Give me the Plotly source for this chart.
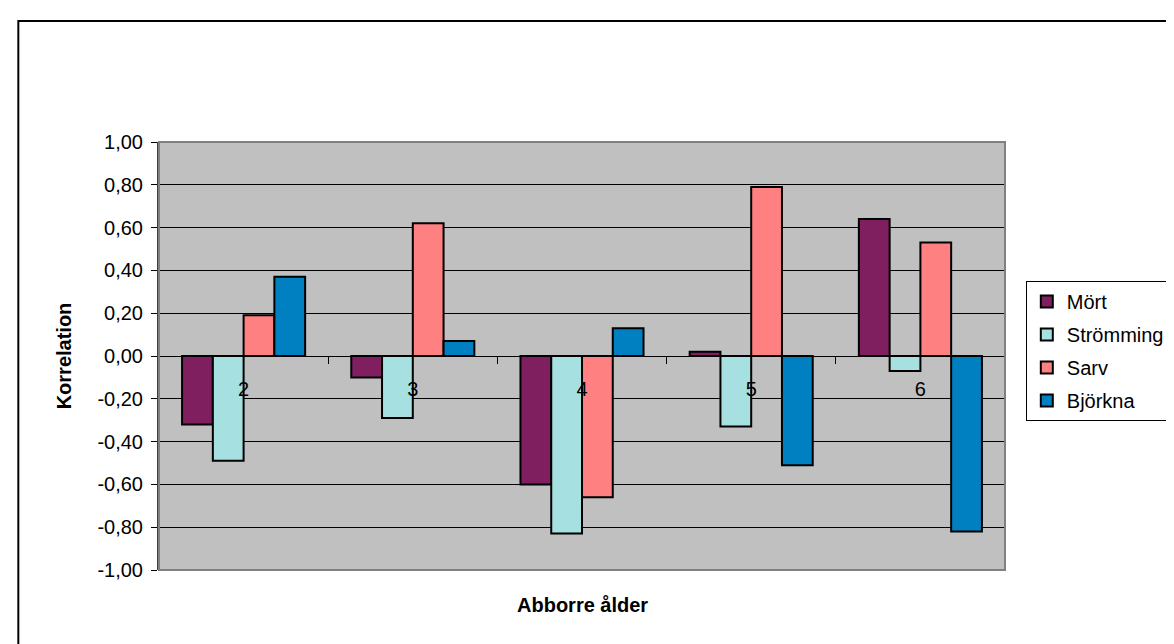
import plotly.graph_objects as go

categories = ["2", "3", "4", "5", "6"]
series_names = ["Mört", "Strömming", "Sarv", "Björkna"]
mort = [-0.32, -0.10, -0.60, 0.02, 0.64]
stromming = [-0.49, -0.29, -0.83, -0.33, -0.07]
sarv = [0.19, 0.62, -0.66, 0.79, 0.53]
bjorkna = [0.37, 0.07, 0.13, -0.51, -0.82]
colors = ["#7F1F5F", "#A6E0E0", "#FF8080", "#0080C0"]
y_tick_vals = [1.0, 0.8, 0.6, 0.4, 0.2, 0.0, -0.2, -0.4, -0.6, -0.8, -1.0]
y_tick_text = ["1,00", "0,80", "0,60", "0,40", "0,20", "0,00",
               "-0,20", "-0,40", "-0,60", "-0,80", "-1,00"]
x_title = "Abborre ålder"
y_title = "Korrelation"

FONT = "Arial, 'Liberation Sans', sans-serif"

fig = go.Figure()
for name, vals, col in zip(series_names, [mort, stromming, sarv, bjorkna], colors):
    fig.add_trace(go.Bar(
        x=categories, y=vals, name=name, legendgroup=name,
        marker=dict(color=col, line=dict(color="black", width=2)),
    ))

W, H = 1174, 644
L, R, T, B = 151, 169, 134, 82
pw, ph = W - L - R, H - T - B

fig.update_layout(
    width=W, height=H,
    margin=dict(l=L, r=R, t=T, b=B, pad=0),
    paper_bgcolor="white",
    plot_bgcolor="#C0C0C0",
    barmode="group",
    bargap=1.5 / 5.5,
    bargroupgap=0,
    font=dict(family=FONT, size=20, color="black"),
    showlegend=True,
    legend=dict(
        x=(1026 - L) / pw, y=(H - B - 273) / ph,
        xanchor="left", yanchor="top",
        bgcolor="white", bordercolor="black", borderwidth=1,
        font=dict(family=FONT, size=20, color="black"),
        traceorder="grouped", tracegroupgap=4,
        itemwidth=30,
    ),
    xaxis=dict(
        type="category",
        anchor="free", position=0.5,
        showline=True, linecolor="black", linewidth=1,
        ticks="outside", ticklen=7, tickcolor="black", tickwidth=1,
        tickson="boundaries",
        ticklabelstandoff=15,
        showgrid=False, zeroline=False,
        tickfont=dict(family=FONT, size=20, color="black"),
    ),
    yaxis=dict(
        range=[-1, 1],
        tickvals=y_tick_vals, ticktext=y_tick_text,
        showline=True, linecolor="#404040", linewidth=2,
        ticks="outside", ticklen=6, tickcolor="black", tickwidth=1,
        ticklabelstandoff=4,
        showgrid=True, gridcolor="black", gridwidth=1,
        zeroline=False,
        tickfont=dict(family=FONT, size=20, color="black"),
        title=dict(text="<b>" + y_title + "</b>", standoff=20,
                   font=dict(family=FONT, size=20, color="black")),
    ),
    annotations=[dict(
        text="<b>" + x_title + "</b>", xref="paper", yref="paper",
        x=0.5, y=(H - B - 597) / ph, xanchor="center", yanchor="middle",
        showarrow=False, font=dict(family=FONT, size=20, color="black"),
    )],
    shapes=[
        dict(type="rect", xref="paper", yref="paper", x0=0, x1=1, y0=0, y1=1,
             line=dict(color="#808080", width=2), layer="above"),
        dict(type="rect", xref="paper", yref="paper",
             x0=(9 - L) / pw, x1=(W + 10 - L) / pw,
             y0=(H - B - (H + 10)) / ph, y1=(H - B - 13) / ph,
             line=dict(color="black", width=2), layer="above"),
    ],
)

fig.write_html("out.html")
